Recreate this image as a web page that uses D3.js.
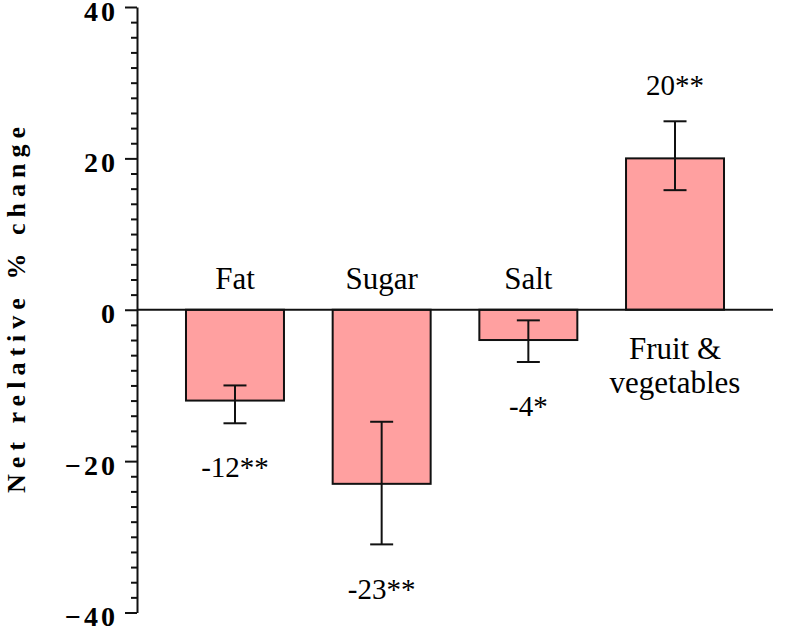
<!DOCTYPE html>
<html>
<head>
<meta charset="utf-8">
<script src="https://cdn.jsdelivr.net/npm/d3@7"></script>
<style>
  html, body { margin: 0; padding: 0; background: #fff; }
  svg { display: block; }
  text { font-family: "Liberation Serif", "Times New Roman", serif; }
</style>
</head>
<body>
<svg id="chart" width="800" height="627"></svg>
<script>
// ---- data ----
const categories = ["Fat", "Sugar", "Salt", "Fruit & vegetables"];
const values = [-12, -23, -4, 20];
const errLow = [-15, -31, -6.9, 15.8];
const errHigh = [-10, -14.8, -1.4, 24.9];
const valueLabels = ["-12**", "-23**", "-4*", "20**"];
const yTicks = [-40, -20, 0, 20, 40];
const yTitle = "Net relative % change";

// ---- layout ----
const serif = '"Liberation Serif", "Times New Roman", serif';
const svg = d3.select("#chart");
const axisX = 137;
const x = d3.scaleBand().domain(categories).range([axisX, 773]).paddingInner(0.332).paddingOuter(0.334);
const y = d3.scaleLinear().domain([-40, 40]).range([612.5, 7]);

const stroke = "#111";

// minor ticks
const minorTicks = d3.range(-40, 41, 2).filter(v => v % 20 !== 0);
const minorAxis = d3.axisLeft(y).tickValues(minorTicks).tickSize(6).tickSizeOuter(0).tickFormat("");
const gMinor = svg.append("g").attr("transform", `translate(${axisX},0)`).call(minorAxis);
gMinor.select(".domain").remove();
gMinor.selectAll(".tick line").attr("stroke", stroke).attr("stroke-width", 2);

// major axis
const majorAxis = d3.axisLeft(y).tickValues(yTicks).tickSize(12).tickSizeOuter(0).tickPadding(0);
const gMajor = svg.append("g").attr("transform", `translate(${axisX},0)`).call(majorAxis)
  .attr("font-family", serif);
gMajor.select(".domain").attr("stroke", stroke).attr("stroke-width", 2);
gMajor.selectAll(".tick line").attr("stroke", stroke).attr("stroke-width", 2);
gMajor.selectAll(".tick text")
  .attr("x", -19)
  .attr("dy", "0.47em")
  .attr("fill", "#000")
  .style("font-family", serif)
  .style("font-weight", "bold")
  .style("font-size", "28px")
  .style("letter-spacing", "3px")
  .text(d => d3.format("d")(d));

// bars
svg.append("g").selectAll("rect").data(categories).join("rect")
  .attr("x", d => x(d))
  .attr("width", x.bandwidth())
  .attr("y", (d, i) => y(Math.max(0, values[i])))
  .attr("height", (d, i) => Math.abs(y(values[i]) - y(0)))
  .attr("fill", "#FFA0A0")
  .attr("stroke", stroke)
  .attr("stroke-width", 2);

// zero line
svg.append("line")
  .attr("x1", axisX).attr("x2", x.range()[1])
  .attr("y1", y(0)).attr("y2", y(0))
  .attr("stroke", stroke).attr("stroke-width", 2);

// error bars
const capW = 23;
const eg = svg.append("g").attr("stroke", stroke).attr("stroke-width", 2);
categories.forEach((c, i) => {
  const cx = x(c) + x.bandwidth() / 2;
  eg.append("line").attr("x1", cx).attr("x2", cx).attr("y1", y(errLow[i])).attr("y2", y(errHigh[i]));
  eg.append("line").attr("x1", cx - capW / 2).attr("x2", cx + capW / 2).attr("y1", y(errLow[i])).attr("y2", y(errLow[i]));
  eg.append("line").attr("x1", cx - capW / 2).attr("x2", cx + capW / 2).attr("y1", y(errHigh[i])).attr("y2", y(errHigh[i]));
});

// value labels
svg.append("g").selectAll("text").data(categories).join("text")
  .attr("x", d => x(d) + x.bandwidth() / 2)
  .attr("y", (d, i) => values[i] < 0 ? y(errLow[i]) + 44 : y(errHigh[i]) - 36)
  .attr("dy", "0.35em")
  .attr("text-anchor", "middle")
  .style("font-family", serif)
  .attr("font-size", 29)
  .attr("fill", "#000")
  .text((d, i) => valueLabels[i]);

// category labels
categories.forEach((c, i) => {
  const cx = x(c) + x.bandwidth() / 2;
  const t = svg.append("text")
    .attr("x", cx)
    .attr("text-anchor", "middle")
    .style("font-family", serif)
    .attr("font-size", 31)
    .attr("fill", "#000");
  if (values[i] < 0) {
    t.attr("y", y(0) - 32).attr("dy", "0.35em").text(c);
  } else {
    const parts = ["Fruit &", "vegetables"];
    t.attr("y", y(0) + 38);
    parts.forEach((p, k) => {
      t.append("tspan").attr("x", cx).attr("dy", k === 0 ? "0.35em" : "1.1em").text(p);
    });
  }
});

// y title
svg.append("text")
  .attr("transform", `translate(16,${(127 + 493) / 2}) rotate(-90)`)
  .attr("text-anchor", "middle")
  .attr("dy", "0.35em")
  .style("font-family", serif)
  .attr("font-size", 26)
  .attr("font-weight", "bold")
  .attr("fill", "#000")
  .attr("textLength", 366)
  .attr("lengthAdjust", "spacing")
  .text(yTitle);
</script>
</body>
</html>
